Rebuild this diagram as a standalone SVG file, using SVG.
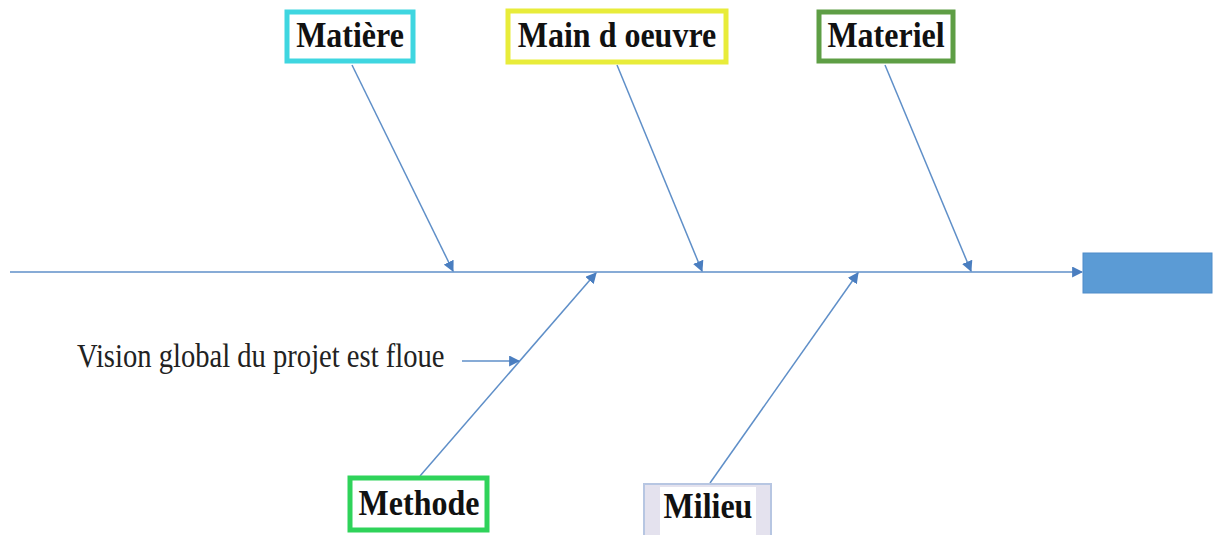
<svg xmlns="http://www.w3.org/2000/svg" width="1217" height="535" viewBox="0 0 1217 535">
  <style>
    .bone { stroke: #5F8FC8; stroke-width: 1.5; fill: none; }
    .box { fill: #ffffff; stroke-width: 5; }
    .lbl { font-family: "Liberation Serif", "Times New Roman", serif; font-weight: bold; font-size: 32px; fill: #111; text-anchor: middle; }
    .note { font-family: "Liberation Serif", "Times New Roman", serif; font-size: 28.6px; fill: #222; }
  </style>
  <defs>
    <marker id="head" viewBox="0 0 10 10" refX="9" refY="5" markerWidth="11" markerHeight="11" markerUnits="userSpaceOnUse" orient="auto">
      <path d="M0,0 L10,5 L0,10 z" fill="#4A7EC0"/>
    </marker>
  </defs>

  <rect width="1217" height="535" fill="#ffffff"/>

  <!-- spine and ribs -->
  <g id="connectors">
    <line class="bone" x1="10" y1="272" x2="1082" y2="272" marker-end="url(#head)"/>
    <line class="bone" x1="352" y1="65" x2="453" y2="271" marker-end="url(#head)"/>
    <line class="bone" x1="617" y1="65" x2="702" y2="271" marker-end="url(#head)"/>
    <line class="bone" x1="885" y1="65" x2="971" y2="271" marker-end="url(#head)"/>
    <line class="bone" x1="420" y1="476" x2="596" y2="273" marker-end="url(#head)"/>
    <line class="bone" x1="710" y1="483" x2="858" y2="273" marker-end="url(#head)"/>
    <line class="bone" x1="462" y1="361" x2="519" y2="361" marker-end="url(#head)"/>
  </g>

  <g id="effect">
    <rect x="1083" y="253" width="129" height="40" fill="#5B9BD5" stroke="#4F8CC9" stroke-width="1"/>
  </g>

  <g id="matiere">
    <rect class="box" x="287" y="12" width="126" height="49" stroke="#3FD6E0"/>
    <text class="lbl" transform="translate(350,47) scale(1,1.13)">Matière</text>
  </g>

  <g id="main-oeuvre">
    <rect class="box" x="508" y="11" width="218" height="51" stroke="#E8EC3A"/>
    <text class="lbl" transform="translate(617,47) scale(1,1.13)">Main d oeuvre</text>
  </g>

  <g id="materiel">
    <rect class="box" x="819" y="12" width="134" height="49" stroke="#5E9E45"/>
    <text class="lbl" transform="translate(886,47) scale(1,1.13)">Materiel</text>
  </g>

  <g id="methode">
    <rect class="box" x="350" y="478" width="137" height="52" stroke="#2FD35A"/>
    <text class="lbl" transform="translate(419,515) scale(1,1.13)">Methode</text>
  </g>

  <g id="milieu">
    <rect x="644" y="484" width="127" height="55" fill="#E4E2EE" stroke="#B7C6E2" stroke-width="2"/>
    <rect x="660" y="487" width="96" height="48" fill="#ffffff"/>
    <text class="lbl" transform="translate(708,518) scale(1,1.13)">Milieu</text>
  </g>

  <g id="cause-vision">
    <text class="note" transform="translate(77,367) scale(1,1.2)">Vision global du projet est floue</text>
  </g>
</svg>
